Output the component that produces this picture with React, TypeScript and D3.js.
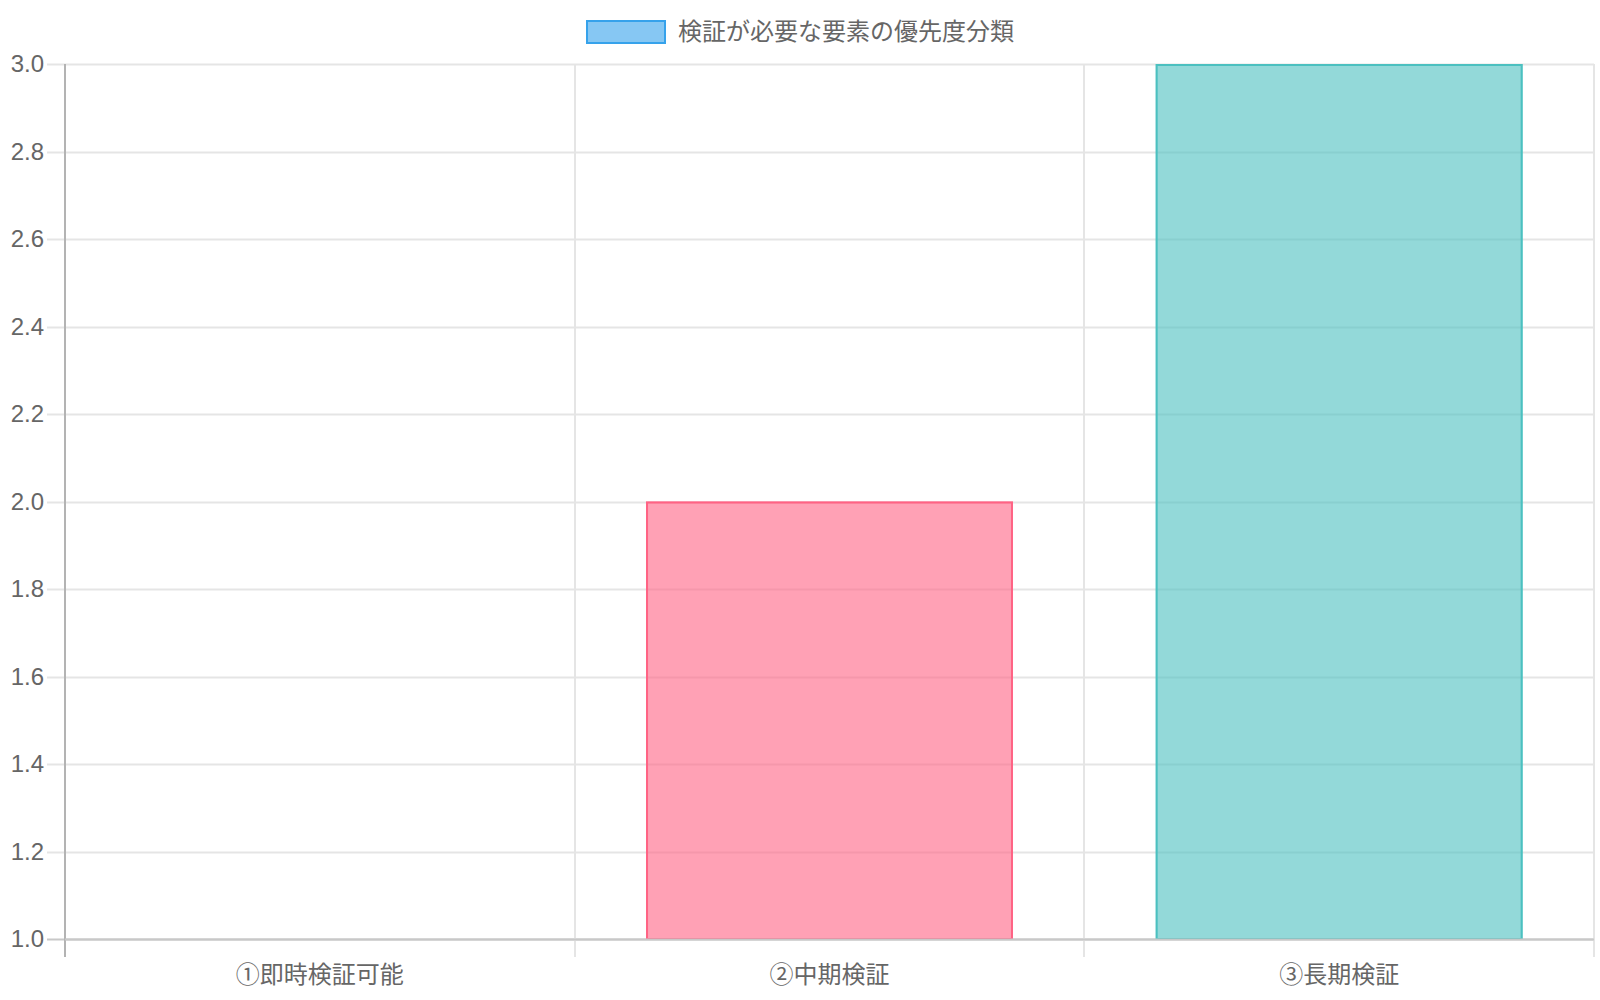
import { useEffect, useRef } from 'react'
import * as d3 from 'd3'

const categories = ['①即時検証可能', '②中期検証', '③長期検証']
const values = [1, 2, 3]
const datasetLabel = '検証が必要な要素の優先度分類'
const yTicks = [1.0, 1.2, 1.4, 1.6, 1.8, 2.0, 2.2, 2.4, 2.6, 2.8, 3.0]

const fills = ['rgba(54, 162, 235, 0.6)', 'rgba(255, 99, 132, 0.6)', 'rgba(75, 192, 192, 0.6)']
const borders = ['rgb(54, 162, 235)', 'rgb(255, 99, 132)', 'rgb(75, 192, 192)']

const FONT = '"Liberation Sans", Arial, "Noto Sans CJK JP", sans-serif'

export default function App() {
  const svgRef = useRef<SVGSVGElement>(null)
  const width = 1600
  const height = 1000

  useEffect(() => {
    if (!svgRef.current) return
    const svg = d3.select(svgRef.current)
    svg.selectAll('*').remove()

    const margin = { top: 64, right: 6, bottom: 61, left: 65 }
    const innerW = width - margin.left - margin.right
    const innerH = height - margin.top - margin.bottom
    const tickLen = 18

    const x = d3.scaleBand().domain(categories).range([0, innerW]).paddingInner(0).paddingOuter(0)
    const y = d3.scaleLinear().domain([1, 3]).range([innerH, 0])

    const g = svg.append('g').attr('transform', `translate(${margin.left},${margin.top})`)

    // horizontal grid + tick marks
    yTicks.forEach((t) => {
      g.append('line')
        .attr('x1', -tickLen)
        .attr('x2', innerW)
        .attr('y1', Math.round(y(t)) + 0.5)
        .attr('y2', Math.round(y(t)) + 0.5)
        .attr('stroke', t === 1 ? '#c8c8c8' : '#e5e5e5')
        .attr('stroke-width', 2)

      g.append('text')
        .attr('x', -21)
        .attr('y', y(t))
        .attr('dy', '0.35em')
        .attr('text-anchor', 'end')
        .style('font-family', FONT)
        .style('font-size', '24px')
        .style('fill', '#666')
        .text(d3.format('.1f')(t))
    })

    // vertical grid at category boundaries
    const bounds = [...categories.map((c) => x(c) as number), innerW]
    bounds.forEach((bx, i) => {
      g.append('line')
        .attr('x1', Math.round(bx))
        .attr('x2', Math.round(bx))
        .attr('y1', 0)
        .attr('y2', innerH + tickLen)
        .attr('stroke', i === 0 ? '#b3b3b3' : '#e5e5e5')
        .attr('stroke-width', 2)
    })

    // bars
    const barW = x.bandwidth() * 0.9 * 0.8
    values.forEach((v, i) => {
      const cx = (x(categories[i]) as number) + x.bandwidth() / 2
      const top = y(v)
      const h = innerH - top
      if (h <= 0) return
      g.append('rect')
        .attr('x', cx - barW / 2)
        .attr('y', top)
        .attr('width', barW)
        .attr('height', h)
        .attr('fill', fills[i])
      g.append('rect')
        .attr('x', cx - barW / 2 + 1)
        .attr('y', top + 1)
        .attr('width', barW - 2)
        .attr('height', h - 1)
        .attr('fill', 'none')
        .attr('stroke', borders[i])
        .attr('stroke-width', 2)
    })

    // redraw bottom axis line over bars
    g.append('line')
      .attr('x1', 0)
      .attr('x2', innerW)
      .attr('y1', innerH + 0.5)
      .attr('y2', innerH + 0.5)
      .attr('stroke', '#c8c8c8')
      .attr('stroke-width', 2)

    // category labels
    categories.forEach((c) => {
      g.append('text')
        .attr('x', (x(c) as number) + x.bandwidth() / 2)
        .attr('y', innerH + 44)
        .attr('text-anchor', 'middle')
        .style('font-family', FONT)
        .style('font-size', '24px')
        .style('fill', '#666')
        .text(c)
    })

    // legend
    const legend = svg.append('g').attr('transform', 'translate(586, 20)')
    legend
      .append('rect')
      .attr('x', 1)
      .attr('y', 1)
      .attr('width', 78)
      .attr('height', 22)
      .attr('fill', fills[0])
      .attr('stroke', borders[0])
      .attr('stroke-width', 2)
    legend
      .append('text')
      .attr('x', 92)
      .attr('y', 12)
      .attr('dy', '0.35em')
      .style('font-family', FONT)
      .style('font-size', '24px')
      .style('fill', '#666')
      .text(datasetLabel)
  }, [])

  return (
    <svg
      ref={svgRef}
      width={width}
      height={height}
      style={{ position: 'absolute', left: 0, top: 0, background: '#fff' }}
    />
  )
}
